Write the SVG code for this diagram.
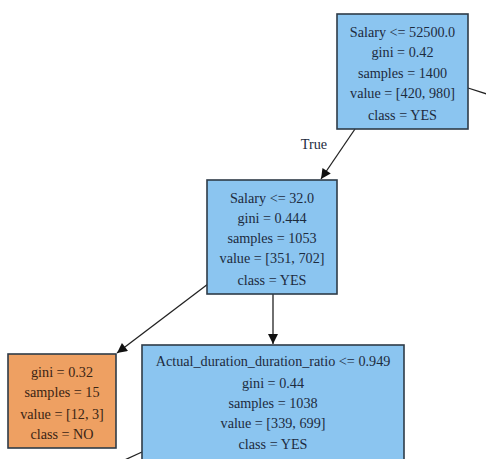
<svg xmlns="http://www.w3.org/2000/svg" width="486" height="459" viewBox="0 0 486 459">
<defs>
<marker id="arr" viewBox="0 0 10 10" refX="10" refY="5" markerWidth="12" markerHeight="10" markerUnits="userSpaceOnUse" orient="auto">
<path d="M0,0 L10,5 L0,10 z" fill="#111"/>
</marker>
<style>
.box{stroke:#2e3b48;stroke-width:1.6}
.yes{fill:#8bc5f0}
.no{fill:#eea062}
text{font-family:"Liberation Serif","Times New Roman",serif;font-size:14.2px;fill:#1d2b3e;text-anchor:middle}
.no-t text{fill:#3a2414}
.edge{stroke:#222;stroke-width:1.3;fill:none}
</style>
</defs>
<rect width="486" height="459" fill="#fff"/>
<g id="edges">
<line class="edge" x1="468" y1="88" x2="490" y2="95"/>
<line class="edge" x1="355" y1="129" x2="321" y2="179" marker-end="url(#arr)"/>
<text x="314" y="149">True</text>
<line class="edge" x1="208" y1="284" x2="117" y2="353" marker-end="url(#arr)"/>
<line class="edge" x1="273" y1="294" x2="273" y2="344" marker-end="url(#arr)"/>
<line class="edge" x1="142" y1="452" x2="118" y2="463"/>
</g>
<g id="node0">
<rect class="box yes" x="337" y="14" width="131" height="115"/>
<text x="402.5" y="37">Salary &lt;= 52500.0</text>
<text x="402.5" y="57">gini = 0.42</text>
<text x="402.5" y="78">samples = 1400</text>
<text x="402.5" y="98">value = [420, 980]</text>
<text x="402.5" y="120">class = YES</text>
</g>
<g id="node1">
<rect class="box yes" x="207" y="180" width="130" height="114"/>
<text x="272" y="203">Salary &lt;= 32.0</text>
<text x="272" y="223">gini = 0.444</text>
<text x="272" y="243">samples = 1053</text>
<text x="272" y="263">value = [351, 702]</text>
<text x="272" y="285">class = YES</text>
</g>
<g id="node2" class="no-t">
<rect class="box no" x="8" y="354" width="108" height="94"/>
<text x="62" y="377">gini = 0.32</text>
<text x="62" y="397">samples = 15</text>
<text x="62" y="419">value = [12, 3]</text>
<text x="62" y="439">class = NO</text>
</g>
<g id="node3">
<rect class="box yes" x="142" y="345" width="262" height="125"/>
<text x="273" y="366">Actual_duration_duration_ratio &lt;= 0.949</text>
<text x="273" y="388">gini = 0.44</text>
<text x="273" y="408">samples = 1038</text>
<text x="273" y="428">value = [339, 699]</text>
<text x="273" y="449">class = YES</text>
</g>
</svg>
